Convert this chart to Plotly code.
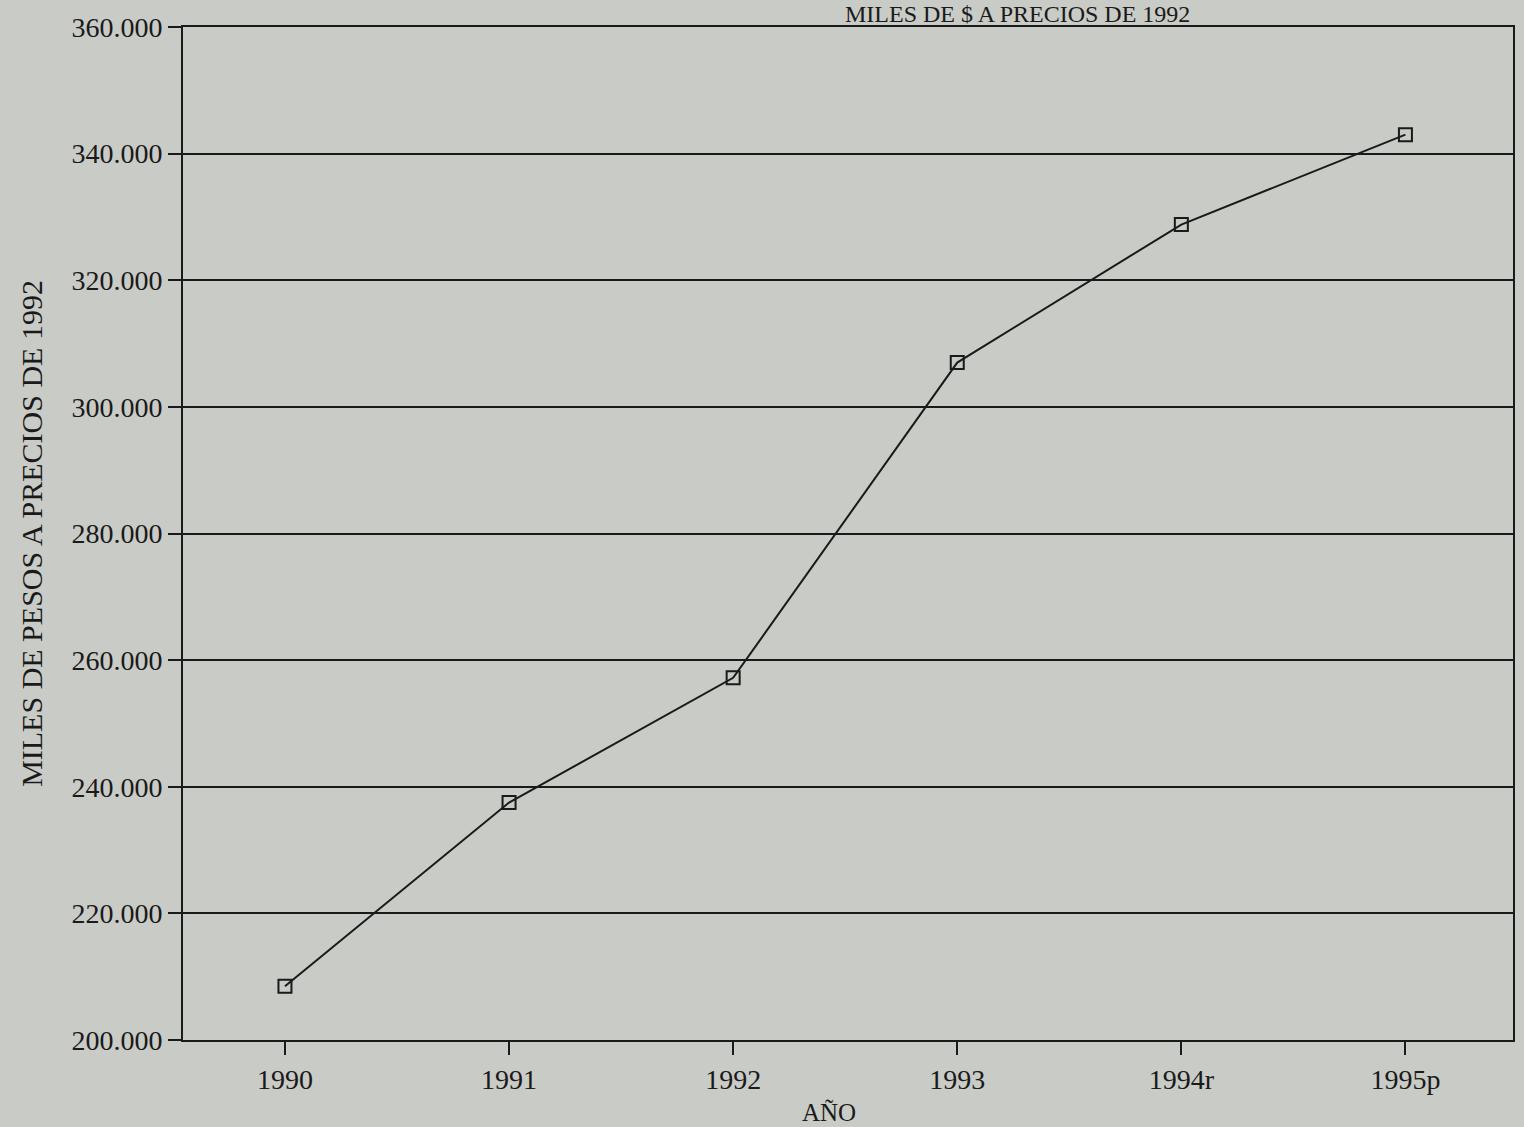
import plotly.graph_objects as go

years = ["1990", "1991", "1992", "1993", "1994r", "1995p"]
values = [208500, 237500, 257200, 307000, 328800, 343000]
y_ticks = [200000, 220000, 240000, 260000, 280000, 300000, 320000, 340000, 360000]

title_text = "MILES DE $ A PRECIOS DE 1992"
y_title = "MILES DE PESOS A PRECIOS DE 1992"
x_title = "AÑO"

bg = "#c9cbc6"
ink = "#1a1a1a"
font_family = "Liberation Serif"

fig = go.Figure()
fig.add_trace(go.Scatter(
    x=years, y=values, mode="lines+markers",
    line=dict(color=ink, width=2),
    marker=dict(symbol="square-open", size=13, color=ink, line=dict(width=2)),
    showlegend=False,
))

fig.update_layout(
    width=1524, height=1127,
    margin=dict(l=183, r=9, t=27, b=87),
    paper_bgcolor=bg, plot_bgcolor=bg,
    separators=",.",
    font=dict(family=font_family, color=ink, size=28),
    xaxis=dict(
        type="category", range=[-0.455, 5.48],
        showgrid=False, showline=True, linecolor=ink, linewidth=2, mirror=True,
        ticks="outside", ticklen=13, tickwidth=2, tickcolor=ink,
        tickfont=dict(size=28, family=font_family),
        zeroline=False,
    ),
    yaxis=dict(
        range=[200000, 360000], tickvals=y_ticks, tickformat=",d",
        showgrid=True, gridcolor=ink, gridwidth=2,
        showline=True, linecolor=ink, linewidth=2, mirror=True,
        ticks="outside", ticklen=13, tickwidth=2, tickcolor=ink,
        tickfont=dict(size=28, family=font_family),
        title=dict(text=y_title, font=dict(size=30, family=font_family), standoff=20),
        zeroline=False,
    ),
    annotations=[
        dict(
            text=title_text, xref="paper", yref="paper",
            x=(1193 - 183) / 1332, y=1.0267, xanchor="right", yanchor="top",
            borderpad=0,
            showarrow=False, font=dict(size=24, family=font_family, color=ink),
        ),
        dict(
            text=x_title, xref="paper", yref="paper",
            x=(830 - 183) / 1332, y=(1040 - 1112) / 1013, xanchor="center", yanchor="middle",
            showarrow=False, font=dict(size=25, family=font_family, color=ink),
        ),
    ],
)

fig.write_html(
    "out.html",
    config={"displayModeBar": False},
    post_script="document.body.style.margin='0';document.body.style.overflow='hidden';",
)
